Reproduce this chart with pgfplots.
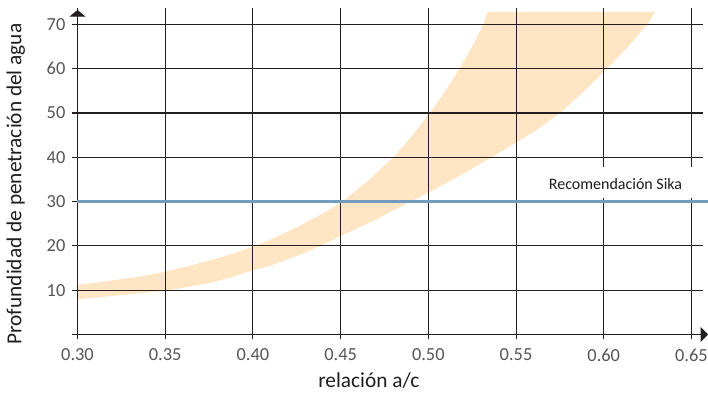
\documentclass[border=0pt]{standalone}
\usepackage{pgfplots}
\pgfplotsset{compat=1.18}
\usepackage{fontspec}
\setmainfont{Carlito}
\usetikzlibrary{arrows.meta}
\definecolor{band}{RGB}{254,229,196}
\definecolor{sika}{RGB}{114,155,190}
\definecolor{gridc}{RGB}{35,31,32}
\definecolor{tickc}{RGB}{85,85,85}
\definecolor{labc}{RGB}{30,30,30}

\begin{document}
\begin{tikzpicture}
\begin{axis}[
  at={(0pt,0pt)}, anchor=south west, scale only axis,
  width=468.9pt, height=244.875pt,
  xmin=0.30, xmax=0.6564, ymin=0, ymax=73.7,
  set layers, axis on top, clip=false,
  axis x line=bottom, axis y line=left,
  x axis line style={gridc, line width=0.8pt, -{Triangle[length=5.5pt,width=11pt]}, shorten >=-4pt},
  y axis line style={gridc, line width=0.8pt, -{Triangle[length=5pt,width=12pt]}, shorten >=1.5pt},
  xtick={0.30,0.35,0.40,0.45,0.50,0.55,0.60,0.65},
  xticklabels={0.30,0.35,0.40,0.45,0.50,0.55,0.60,0.65},
  ytick={0,10,20,30,40,50,60,70},
  yticklabels={{},10,20,30,40,50,60,70},
  grid=major, major grid style={gridc, line width=0.8pt},
  tick align=outside, major tick length=3.75pt,
  major tick style={gridc, line width=0.8pt},
  /pgf/number format/assume math mode=true,
  tick label style={font=\fontsize{13.8}{15}\selectfont, text=tickc},
  x tick label style={yshift=-3.6pt},
  y tick label style={xshift=-1.8pt},
  xlabel={relación a/c},
  ylabel={Profundidad de penetración del agua},
  xlabel style={at={(axis description cs:0.466,-0.1608)}, anchor=base, font=\fontsize{16}{18}\selectfont, text=labc},
  ylabel style={at={(axis description cs:-0.0896,0.461)}, anchor=base, font=\fontsize{16}{18}\selectfont, text=labc},
]
\addplot[fill=band, draw=none] coordinates {
(0.30,11.2) (0.3125,11.8) (0.325,12.5) (0.3356,13.05) (0.35,14.2) (0.3625,15.35) (0.375,16.7) (0.3875,18.1) (0.40,19.8) (0.4125,21.8) (0.425,24.2) (0.4375,26.8) (0.45,29.7) (0.465,34.5) (0.48,40) (0.49,44.5) (0.501,50) (0.51,55.2) (0.5177,60) (0.525,65) (0.5314,70) (0.5337,72.8)
(0.6293,72.8) (0.6249,70) (0.614,65) (0.6017,60) (0.589,55) (0.5751,50) (0.56,45.7) (0.5428,41.6) (0.52,36.3) (0.50,32.0) (0.4896,30) (0.47,25.9) (0.45,22.2) (0.4375,19.8) (0.425,17.7) (0.4097,15.5) (0.40,14.5) (0.3875,12.9) (0.375,11.6) (0.3625,10.7) (0.35,9.9) (0.3356,9.3) (0.325,8.9) (0.3125,8.4) (0.30,7.9)
} -- cycle;
\addplot[sika, line width=2.5pt, on layer=axis foreground] coordinates {(0.30,30) (0.6595,30)};
\addplot[draw=none, on layer=axis foreground] coordinates {(0.6067,32.84) (0.6068,32.84)}
  node[pos=0, fill=white, inner xsep=7.9pt, inner ysep=0pt, text height=16.8pt, text depth=7.1pt, anchor=base, font=\fontsize{12}{14}\selectfont, text=labc] {Recomendación Sika};
\end{axis}
\pgfresetboundingbox
\path[use as bounding box] (-58.125pt,-43.875pt) rectangle (472.875pt,250.875pt);
\end{tikzpicture}
\end{document}
